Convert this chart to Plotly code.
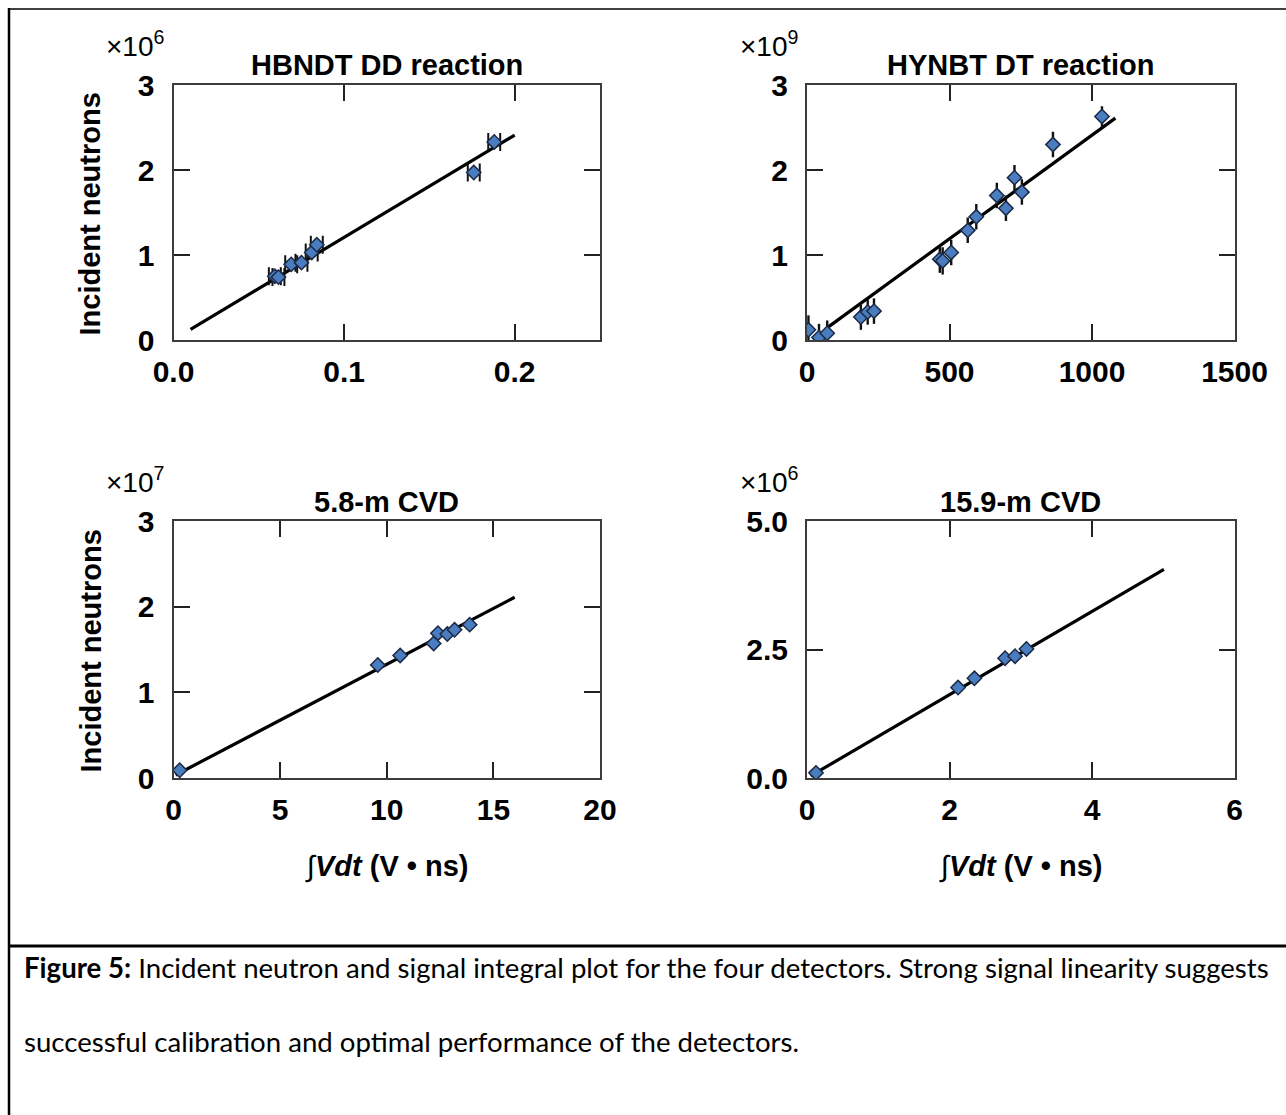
import plotly.graph_objects as go

W, H = 1286, 1115

# ---------------- data ----------------
# HBNDT DD reaction (x: V*ns, y: x1e6 neutrons)
dd_x = [0.0594, 0.0615, 0.069, 0.075, 0.081, 0.084, 0.176, 0.188]
dd_y = [0.75, 0.74, 0.89, 0.91, 1.03, 1.12, 1.97, 2.33]
dd_xerr = [0.0035, 0.0035, 0.0035, 0.0035, 0.0035, 0.0035, 0.0035, 0.0035]
dd_fit_x = [0.01, 0.20]
dd_fit_y = [0.125, 2.41]

# HYNBT DT reaction (x: V*ns, y: x1e9 neutrons)
dt_x = [5, 42, 71, 189, 213, 235, 466, 476, 506, 564, 594, 666, 698, 728, 754, 863, 1035]
dt_y = [0.12, 0.03, 0.08, 0.27, 0.33, 0.34, 0.95, 0.93, 1.03, 1.29, 1.45, 1.70, 1.55, 1.91, 1.74, 2.30, 2.63]
dt_yerr = [0.17, 0.16, 0.15, 0.15, 0.15, 0.15, 0.16, 0.16, 0.15, 0.15, 0.15, 0.15, 0.15, 0.15, 0.15, 0.15, 0.12]
dt_fit_x = [69, 1082]
dt_fit_y = [0.14, 2.61]

# 5.8-m CVD (x: V*ns, y: x1e7 neutrons)
c58_x = [0.29, 9.58, 10.63, 12.2, 12.4, 12.84, 13.18, 13.89]
c58_y = [0.09, 1.32, 1.43, 1.57, 1.69, 1.68, 1.73, 1.79]
c58_fit_x = [0.1, 16.0]
c58_fit_y = [0.035, 2.11]

# 15.9-m CVD (x: V*ns, y: x1e6 neutrons)
c159_x = [0.126, 2.12, 2.35, 2.78, 2.92, 3.08]
c159_y = [0.10, 1.76, 1.94, 2.33, 2.37, 2.51]
c159_fit_x = [0.05, 5.01]
c159_fit_y = [0.04, 4.06]

titles = ["HBNDT DD reaction", "HYNBT DT reaction", "5.8-m CVD", "15.9-m CVD"]
exponents = ["6", "9", "7", "6"]
y_title = "Incident neutrons"
x_title = "∫<b><i>Vdt</i> (V • ns)</b>"
caption_1 = "<b>Figure 5:</b> Incident neutron and signal integral plot for the four detectors. Strong signal linearity suggests"
caption_2 = "successful calibration and optimal performance of the detectors."

# ---------------- styling ----------------
FONT = "Liberation Sans, Arial, Helvetica, sans-serif"
CAPTION_FONT = "Lato, Open Sans, sans-serif"
MARK_FILL = "#4a7dbf"
MARK_LINE = "#1c2a45"

def px_x(p):
    return p / W

def px_y(p):
    return 1 - p / H

# frame pixel boxes
LX = (173.5, 600.0)
RX = (807.0, 1234.5)
TY = (85.0, 340.0)
BY = (521.0, 778.0)

fig = go.Figure()

def add_panel(idx, xs, ys, fx, fy, xerr=None, yerr=None):
    xa = "x" if idx == 1 else f"x{idx}"
    ya = "y" if idx == 1 else f"y{idx}"
    fig.add_trace(go.Scatter(x=fx, y=fy, mode="lines", xaxis=xa, yaxis=ya,
                             line=dict(color="black", width=3.2), showlegend=False,
                             hoverinfo="skip"))
    kw = {}
    if xerr is not None:
        kw["error_x"] = dict(type="data", array=xerr, visible=True, color="#111",
                             thickness=2, width=9)
    if yerr is not None:
        kw["error_y"] = dict(type="data", array=yerr, visible=True, color="#111",
                             thickness=2.4, width=0)
    fig.add_trace(go.Scatter(x=xs, y=ys, mode="markers", xaxis=xa, yaxis=ya,
                             marker=dict(symbol="diamond", size=11, color=MARK_FILL,
                                         line=dict(color=MARK_LINE, width=1.5)),
                             showlegend=False, **kw))

add_panel(1, dd_x, dd_y, dd_fit_x, dd_fit_y, xerr=dd_xerr)
add_panel(2, dt_x, dt_y, dt_fit_x, dt_fit_y, yerr=dt_yerr)
add_panel(3, c58_x, c58_y, c58_fit_x, c58_fit_y)
add_panel(4, c159_x, c159_y, c159_fit_x, c159_fit_y)

tickfont = dict(family=FONT, size=30, color="black", weight="bold")

def axis(domain, rng, tickvals, ticktext, anchor, standoff):
    return dict(domain=domain, range=rng, anchor=anchor,
                tickmode="array", tickvals=tickvals, ticktext=ticktext,
                showline=True, linecolor="#3c3c3c", linewidth=2, mirror="ticks",
                ticks="inside", ticklen=16, tickwidth=2, tickcolor="#222",
                ticklabelstandoff=standoff,
                showgrid=False, zeroline=False, tickfont=tickfont, fixedrange=True)

xdL = [px_x(LX[0]), px_x(LX[1])]
xdR = [px_x(RX[0]), px_x(RX[1])]
ydT = [px_y(TY[1]), px_y(TY[0])]
ydB = [px_y(BY[1]), px_y(BY[0])]

layout = dict(
    width=W, height=H, margin=dict(l=0, r=0, t=0, b=0, autoexpand=False),
    paper_bgcolor="white", plot_bgcolor="white", showlegend=False,
    xaxis=axis(xdL, [0, 0.25], [0, 0.1, 0.2], ["0.0", "0.1", "0.2"], "y", 4),
    yaxis=axis(ydT, [0, 3], [0, 1, 2, 3], ["0", "1", "2", "3"], "x", 11),
    xaxis2=axis(xdR, [0, 1500], [0, 500, 1000, 1500], ["0", "500", "1000", "1500"], "y2", 4),
    yaxis2=axis(ydT, [0, 3], [0, 1, 2, 3], ["0", "1", "2", "3"], "x2", 11),
    xaxis3=axis(xdL, [0, 20], [0, 5, 10, 15, 20], ["0", "5", "10", "15", "20"], "y3", 4),
    yaxis3=axis(ydB, [0, 3], [0, 1, 2, 3], ["0", "1", "2", "3"], "x3", 11),
    xaxis4=axis(xdR, [0, 6], [0, 2, 4, 6], ["0", "2", "4", "6"], "y4", 4),
    yaxis4=axis(ydB, [0, 5], [0, 2.5, 5], ["0.0", "2.5", "5.0"], "x4", 11),
)
fig.update_layout(**layout)

annotations = []
def ann(text, x, y, size, bold=False, angle=0, xanchor="center", yanchor="middle", family=FONT):
    annotations.append(dict(text=text, x=px_x(x), y=px_y(y), xref="paper", yref="paper",
                            showarrow=False, textangle=angle, xanchor=xanchor, yanchor=yanchor,
                            font=dict(family=family, size=size, color="black",
                                      weight="bold" if bold else "normal")))

# panel titles
ann(titles[0], (LX[0] + LX[1]) / 2, 65, 29, bold=True)
ann(titles[1], (RX[0] + RX[1]) / 2, 65, 29, bold=True)
ann(titles[2], (LX[0] + LX[1]) / 2, 502, 29, bold=True)
ann(titles[3], (RX[0] + RX[1]) / 2, 502, 29, bold=True)

# multipliers
for e, (x, y) in zip(exponents, [(104, 44), (738, 44), (104, 480), (738, 480)]):
    ann("×10<sup>" + e + "</sup>", x, y, 28, xanchor="left")

# y-axis titles
ann(y_title, 90, (TY[0] + TY[1]) / 2 + 2, 29, bold=True, angle=-90)
ann(y_title, 90, (BY[0] + BY[1]) / 2 + 2, 29, bold=True, angle=-90)

# x-axis titles
ann(x_title, (LX[0] + LX[1]) / 2, 866, 29)
ann(x_title, (RX[0] + RX[1]) / 2, 866, 29)

# caption
ann(caption_1, 22, 967, 27.6, xanchor="left", family=CAPTION_FONT)
ann(caption_2, 22, 1041, 27.6, xanchor="left", family=CAPTION_FONT)

fig.update_layout(annotations=annotations)

# page border lines
shapes = [
    dict(type="line", xref="paper", yref="paper", x0=px_x(8), x1=1, y0=px_y(9), y1=px_y(9),
         line=dict(color="black", width=1.5)),
    dict(type="line", xref="paper", yref="paper", x0=px_x(9), x1=px_x(9), y0=px_y(8), y1=0,
         line=dict(color="black", width=2.5)),
    dict(type="line", xref="paper", yref="paper", x0=px_x(8), x1=1, y0=px_y(946), y1=px_y(946),
         line=dict(color="black", width=3)),
]
fig.update_layout(shapes=shapes)

reset_css = (
    "var e=document.getElementById('{plot_id}');"
    "while(e){if(e.style){e.style.margin='0';e.style.padding='0';}e=e.parentElement;}"
    "document.documentElement.style.overflow='hidden';"
)
fig.write_html("out.html", post_script=reset_css, config={"displayModeBar": False})
